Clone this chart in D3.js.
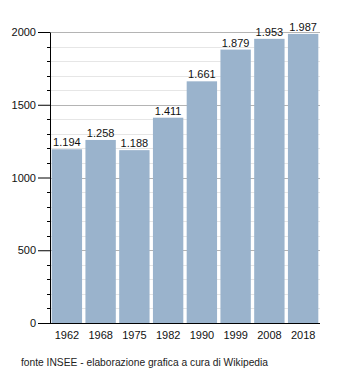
<!DOCTYPE html>
<html>
<head>
<meta charset="utf-8">
<script src="https://cdn.jsdelivr.net/npm/d3@7"></script>
<style>
  body { margin: 0; background: #fff; }
  svg { font-family: "Liberation Sans", Arial, sans-serif; }
</style>
</head>
<body>
<script>
// census years and resident population
const years = ["1962", "1968", "1975", "1982", "1990", "1999", "2008", "2018"];
const population = [1194, 1258, 1188, 1411, 1661, 1879, 1953, 1987];
const yTicks = [0, 500, 1000, 1500, 2000];
const source = "fonte INSEE - elaborazione grafica a cura di Wikipedia";

const width = 350, height = 373;
const margin = { left: 50, right: 30, top: 32, bottom: 50 };

const svg = d3.select("body").append("svg")
  .attr("width", width).attr("height", height);

const x = d3.scaleBand().domain(years)
  .range([margin.left, width - margin.right])
  .paddingInner(0.1).paddingOuter(0.05);

const y = d3.scaleLinear().domain([0, 2000])
  .range([height - margin.bottom, margin.top]);

// minor grid every 100, major every 500
const minor = d3.range(100, 2001, 100).filter(v => v % 500 !== 0);
svg.append("g").selectAll("line").data(minor).join("line")
  .attr("x1", margin.left).attr("x2", width - margin.right)
  .attr("y1", d => Math.round(y(d)) + 0.5).attr("y2", d => Math.round(y(d)) + 0.5)
  .attr("stroke", "#e6e6e6");
svg.append("g").selectAll("line").data(yTicks.slice(1)).join("line")
  .attr("x1", margin.left).attr("x2", width - margin.right)
  .attr("y1", d => Math.round(y(d)) + 0.5).attr("y2", d => Math.round(y(d)) + 0.5)
  .attr("stroke", "#b4b4b4");

// bars
svg.append("g").selectAll("rect").data(population).join("rect")
  .attr("x", (d, i) => x(years[i]))
  .attr("width", x.bandwidth())
  .attr("y", d => y(d))
  .attr("height", d => y(0) - y(d))
  .attr("fill", "#9ab3cc");

// value labels, italian thousands separator
svg.append("g").selectAll("text").data(population).join("text")
  .attr("x", (d, i) => x(years[i]) + x.bandwidth() / 2)
  .attr("y", d => y(d) - 3)
  .attr("text-anchor", "middle")
  .attr("font-size", 11)
  .attr("fill", "#111")
  .text(d => d3.format(",")(d).replace(",", "."));

// y axis with minor ticks
const yAxis = svg.append("g").attr("transform", `translate(${margin.left},0)`);
yAxis.selectAll("line.minor").data(minor).join("line")
  .attr("class", "minor")
  .attr("x1", -3).attr("x2", 0)
  .attr("y1", d => Math.round(y(d)) + 0.5).attr("y2", d => Math.round(y(d)) + 0.5)
  .attr("stroke", "#000");
yAxis.call(d3.axisLeft(y).tickValues(yTicks).tickFormat(d3.format("d"))
    .tickSize(12).tickPadding(2).tickSizeOuter(0))
  .call(g => g.select(".domain").attr("stroke", "#000"))
  .call(g => g.selectAll("text").attr("font-size", 11).attr("fill", "#111")
    .attr("font-family", "Liberation Sans, Arial, sans-serif"));

// x axis
svg.append("g").attr("transform", `translate(0,${y(0)})`)
  .call(d3.axisBottom(x).tickSize(0).tickPadding(8).tickSizeOuter(0))
  .call(g => g.select(".domain").attr("stroke", "#000").attr("d", `M${margin.left},0.5H${width - margin.right}`))
  .call(g => g.selectAll("text").attr("font-size", 11).attr("fill", "#111")
    .attr("font-family", "Liberation Sans, Arial, sans-serif"));

svg.append("text")
  .attr("x", 21).attr("y", 366)
  .attr("font-size", 11).attr("fill", "#222")
  .attr("textLength", 247).attr("lengthAdjust", "spacingAndGlyphs")
  .text(source);
</script>
</body>
</html>
